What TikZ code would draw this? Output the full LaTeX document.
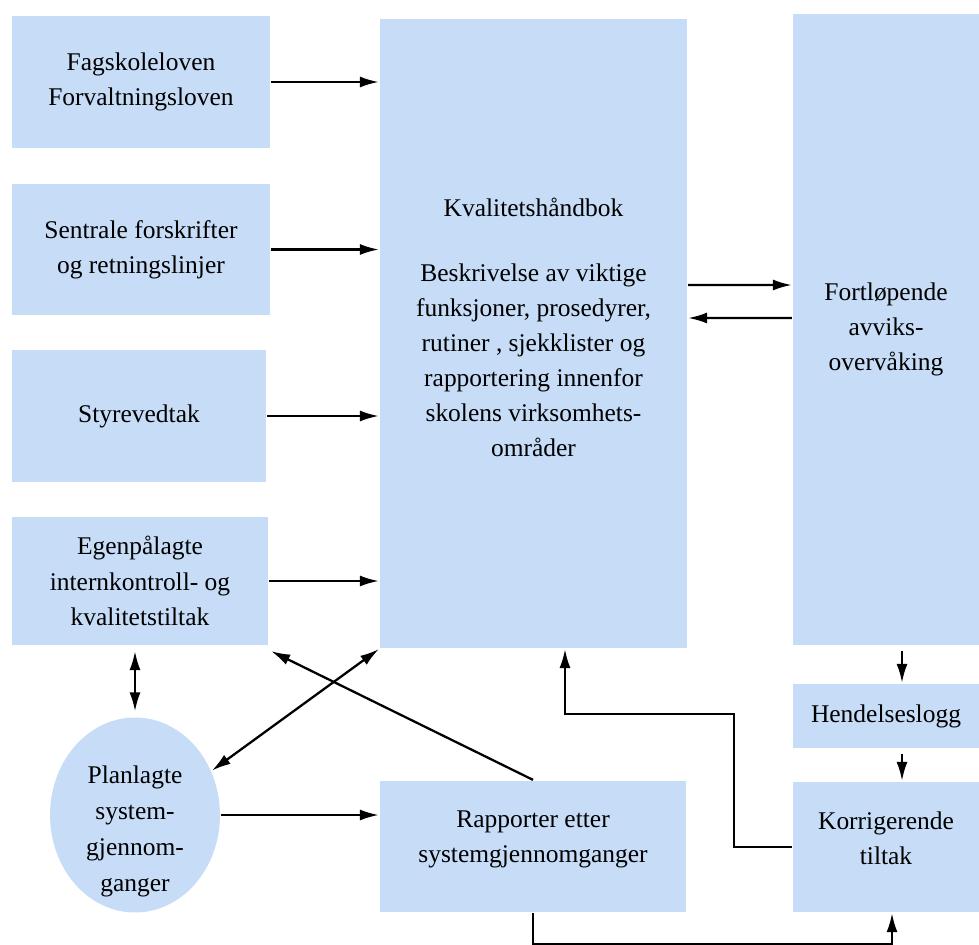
\documentclass[tikz,border=0pt]{standalone}
\usepackage{fontspec}
\setmainfont{Liberation Serif}
\usetikzlibrary{arrows.meta,shapes.geometric}
\definecolor{boxblue}{RGB}{198,220,247}
\begin{document}
\begin{tikzpicture}[x=0.02cm,y=-0.02cm,line width=1.3pt,
>={Latex[length=3.8mm,width=2.2mm]},
box/.style = {rectangle,fill=boxblue,align=center,inner sep=0pt,
font=\fontsize{14.5}{20}\selectfont},
round box/.style = {ellipse,fill=boxblue,align=center,inner xsep=0pt,inner ysep=-12pt,
font=\fontsize{14.5}{20.5}\selectfont}]

\useasboundingbox (0,0) rectangle (979,945);

\node[box,minimum width=5.16cm,minimum height=2.64cm] (fag) at (141,82) {Fagskoleloven\\Forvaltningsloven};
\node[box,minimum width=5.16cm,minimum height=2.62cm] (sen) at (141,249.5) {Sentrale forskrifter\\og retningslinjer};
\node[box,minimum width=5.08cm,minimum height=2.64cm] (sty) at (139,416) {Styrevedtak};
\node[box,minimum width=5.12cm,minimum height=2.56cm] (egen) at (140,581) {Egenpålagte\\internkontroll- og\\kvalitetstiltak};
\node[box,minimum width=6.14cm,minimum height=12.58cm] (kval) at (533.5,333.5) {Kvalitetshåndbok\\[17pt]Beskrivelse av viktige\\funksjoner, prosedyrer,\\rutiner , sjekklister og\\rapportering innenfor\\skolens virksomhets-\\områder\rule[-7pt]{0pt}{7pt}};
\node[box,minimum width=3.72cm,minimum height=12.62cm] (fort) at (886,329.5) {Fortløpende\\avviks-\\overvåking};
\node[box,minimum width=3.72cm,minimum height=1.28cm] (hend) at (886,716) {Hendelseslogg};
\node[box,minimum width=3.72cm,minimum height=2.6cm] (korr) at (886,847) {Korrigerende\\tiltak\rule[-10pt]{0pt}{10pt}};
\node[box,minimum width=6.12cm,minimum height=2.62cm] (rapp) at (533,846.5) {Rapporter etter\\systemgjennomganger\rule[-11pt]{0pt}{11pt}};
\node[round box,minimum width=3.4cm,minimum height=3.9cm] (plan) at (135,815) {\rule{0pt}{29pt}Planlagte\\system-\\gjennom-\\ganger};

\path[->]
(fag) edge (fag -| kval.west)
(sen) edge (sen -| kval.west)
(sty) edge (sty -| kval.west)
(egen) edge (egen -| kval.west)
([yshift=0.97cm]kval.east) edge ([yshift=0.89cm]fort.west)
([yshift=0.23cm]fort.west) edge ([yshift=0.31cm]kval.east)
(plan) edge (plan -| rapp.west)
(rapp.north) edge ([shift={(0.04cm,-0.1cm)}]egen.south east)
([xshift=0.32cm]fort.south) edge[shorten <=0.1cm] ([xshift=0.32cm]hend.north)
([xshift=0.32cm]hend.south) edge[shorten <=0.1cm] ([xshift=0.32cm]korr.north);

\path[<->]
([yshift=-0.1cm]plan.north |- egen.south) edge ([yshift=0.1cm]plan.north)
(plan.30) edge (kval.south west);

\draw[->] (korr.west) -- ++(-58,0) -- ++(0,-133) -| ([xshift=0.63cm]kval.south);
\draw[->] (rapp.south) -- ++(0,31) -| ([xshift=0.12cm]korr.south);
\end{tikzpicture}
\end{document}
